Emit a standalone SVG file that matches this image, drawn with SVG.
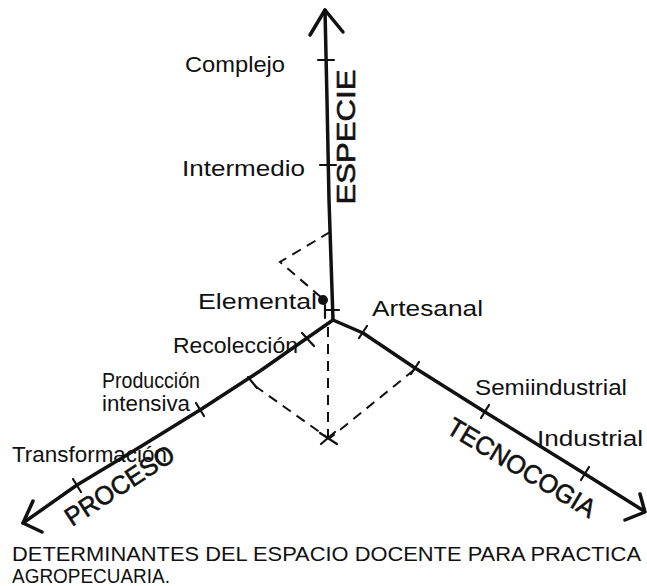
<svg xmlns="http://www.w3.org/2000/svg" width="647" height="586" viewBox="0 0 647 586">
<style>
.axis{fill:none;stroke:#111;stroke-width:3.5;stroke-linecap:round;stroke-linejoin:round}
.tick{fill:none;stroke:#111;stroke-width:2.2;stroke-linecap:round}
.dash{fill:none;stroke:#111;stroke-width:2;stroke-dasharray:10 7}
.lbl{font-family:"Liberation Sans",Arial,sans-serif;font-size:22px;fill:#111}
.big{font-family:"Liberation Sans",Arial,sans-serif;font-size:26px;fill:#111;stroke:#111;stroke-width:0.6}
.title{font-family:"Liberation Sans",Arial,sans-serif;font-size:21px;fill:#111}
</style>
<rect width="647" height="586" fill="#fff"/>
<g id="connectors">
  <path class="axis" d="M325,10 L327,100 L329,200 L331,260 L333,320"/>
  <path class="axis" d="M310,35 L325,10 L343,32"/>
  <path class="axis" d="M333,320 L300,343 L260,371 L200,410 L140,447 L77,485 L23,523"/>
  <path class="axis" d="M33,501 L23,523 L42,532"/>
  <path class="axis" d="M333,320 L363,333 L415,368 L485,412 L585,474 L644,511"/>
  <path class="axis" d="M640,494 L645,512 L625,520"/>
</g>
<g id="ticks">
  <line class="tick" x1="318" y1="60" x2="334" y2="60"/>
  <line class="tick" x1="320" y1="165" x2="336" y2="165"/>
  <line class="tick" x1="326" y1="310" x2="339" y2="310"/>
  <line class="tick" x1="325" y1="305" x2="325" y2="318"/>
  <line class="tick" x1="302" y1="333" x2="314" y2="346"/>
  <line class="tick" x1="248" y1="377" x2="257" y2="388"/>
  <line class="tick" x1="196" y1="403" x2="204" y2="416"/>
  <line class="tick" x1="73" y1="479" x2="81" y2="492"/>
  <line class="tick" x1="367" y1="326" x2="359" y2="338"/>
  <line class="tick" x1="419" y1="362" x2="411" y2="374"/>
  <line class="tick" x1="489" y1="405" x2="481" y2="418"/>
  <line class="tick" x1="589" y1="467" x2="581" y2="480"/>
</g>
<g id="guides">
  <polyline class="dash" points="330,232 280,262 322,298"/>
  <line class="dash" x1="414" y1="370" x2="330" y2="438"/>
  <line class="dash" x1="255" y1="386" x2="328" y2="438"/>
  <line class="dash" x1="328" y1="327" x2="328" y2="438"/>
  <line class="tick" x1="320" y1="433" x2="337" y2="444"/>
  <line class="tick" x1="321" y1="444" x2="335" y2="432"/>
  <circle cx="323" cy="300" r="5" fill="#111"/>
</g>
<g id="especie">
  <text class="big" transform="translate(355,137) rotate(-90)" text-anchor="middle" textLength="135" lengthAdjust="spacingAndGlyphs" font-size="24">ESPECIE</text>
  <text class="lbl" x="185" y="72" textLength="100" lengthAdjust="spacingAndGlyphs">Complejo</text>
  <text class="lbl" x="182" y="176" textLength="123" lengthAdjust="spacingAndGlyphs">Intermedio</text>
  <text class="lbl" x="198" y="309" textLength="119" lengthAdjust="spacingAndGlyphs">Elemental</text>
</g>
<g id="proceso">
  <text class="big" transform="translate(72,527) rotate(-33)" textLength="125" lengthAdjust="spacingAndGlyphs">PROCESO</text>
  <text class="lbl" x="173" y="353" textLength="125" lengthAdjust="spacingAndGlyphs">Recolección</text>
  <text class="lbl" x="102" y="388" font-size="18" textLength="98" lengthAdjust="spacingAndGlyphs">Producción</text>
  <text class="lbl" x="102" y="411" font-size="18" textLength="88" lengthAdjust="spacingAndGlyphs">intensiva</text>
  <text class="lbl" x="12" y="462" font-size="20" textLength="155" lengthAdjust="spacingAndGlyphs">Transformación</text>
</g>
<g id="tecnologia">
  <text class="big" transform="translate(445,432) rotate(31)" textLength="168" lengthAdjust="spacingAndGlyphs">TECNOCOGIA</text>
  <text class="lbl" x="372" y="316" textLength="111" lengthAdjust="spacingAndGlyphs">Artesanal</text>
  <text class="lbl" x="475" y="395" textLength="152" lengthAdjust="spacingAndGlyphs">Semiindustrial</text>
  <text class="lbl" x="537" y="446" textLength="106" lengthAdjust="spacingAndGlyphs">Industrial</text>
</g>
<g id="title">
  <text class="title" x="12" y="561" textLength="629" lengthAdjust="spacingAndGlyphs">DETERMINANTES DEL ESPACIO DOCENTE PARA PRACTICA</text>
  <text class="title" x="12" y="583" textLength="158" lengthAdjust="spacingAndGlyphs">AGROPECUARIA.</text>
</g>
</svg>
